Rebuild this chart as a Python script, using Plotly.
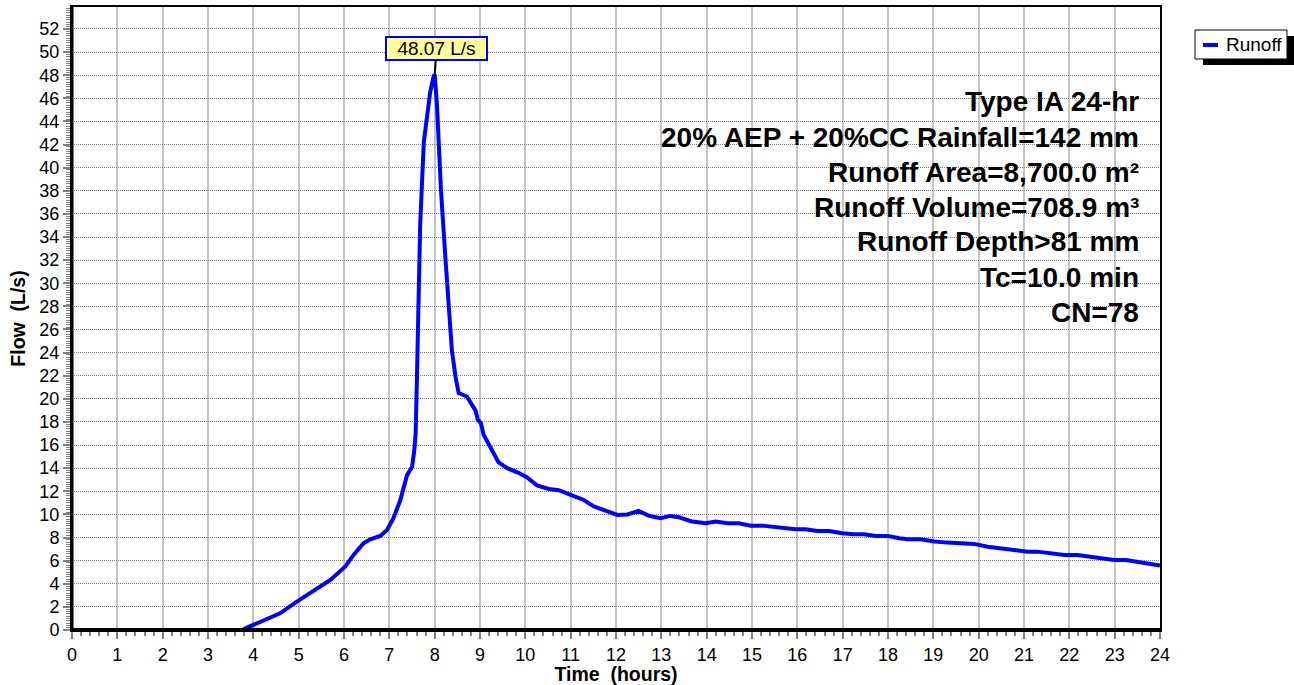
import plotly.graph_objects as go

# Runoff hydrograph (time in hours, flow in L/s)
time_h = [0, 3.75, 3.86, 4.22, 4.59, 4.96, 5.33, 5.7, 6.03, 6.21, 6.43, 6.58, 6.8, 6.95, 7.09, 7.24,
          7.39, 7.5, 7.55, 7.58, 7.61, 7.65, 7.68, 7.76, 7.83, 7.9, 7.97, 8.0, 8.05, 8.1, 8.14,
          8.24, 8.31, 8.38, 8.46, 8.53, 8.71, 8.9, 8.95, 9.02, 9.08, 9.23, 9.41, 9.6, 9.85, 10.04,
          10.26, 10.52, 10.74, 11.0, 11.29, 11.51, 11.81, 12.03, 12.25, 12.5, 12.73, 12.98, 13.2,
          13.39, 13.68, 13.98, 14.2, 14.46, 14.71, 14.97, 15.23, 15.49, 15.7, 15.96, 16.18, 16.44,
          16.7, 16.99, 17.25, 17.47, 17.73, 17.99, 18.25, 18.43, 18.72, 19.02, 19.31, 19.61, 19.9,
          20.2, 20.49, 20.78, 21.08, 21.3, 21.6, 21.89, 22.18, 22.44, 22.7, 22.99, 23.25, 23.51,
          23.76, 24.0]
flow_ls = [0, 0, 0.2, 0.78, 1.44, 2.45, 3.38, 4.33, 5.5, 6.5, 7.5, 7.85, 8.14, 8.66, 9.67, 11.2,
           13.4, 14.1, 15.5, 17.0, 22.0, 29.2, 35.0, 42.2, 44.5, 46.5, 47.8, 48.07, 45.5, 41.5, 38.0,
           32.0, 27.7, 24.2, 21.9, 20.5, 20.2, 19.0, 18.2, 17.9, 16.9, 15.8, 14.5, 14.0, 13.6, 13.2,
           12.5, 12.2, 12.1, 11.7, 11.25, 10.7, 10.25, 9.96, 10.0, 10.3, 9.87, 9.67, 9.87,
           9.75, 9.38, 9.23, 9.38, 9.23, 9.23, 9.03, 9.03, 8.89, 8.85, 8.72, 8.72, 8.57,
           8.57, 8.37, 8.28, 8.28, 8.14, 8.14, 7.94, 7.85, 7.85, 7.65, 7.56, 7.5, 7.45,
           7.21, 7.07, 6.99, 6.78, 6.78, 6.64, 6.49, 6.49, 6.35, 6.2, 6.06, 6.06, 5.86,
           5.71, 5.57]

x_ticks = list(range(0, 25))
y_ticks = list(range(0, 53, 2))

series_name = "Runoff"
peak_time = 8.0
peak_flow = 48.07
peak_label = "48.07 L/s"

info_lines = [
    "Type IA 24-hr",
    "20% AEP + 20%CC Rainfall=142 mm",
    "Runoff Area=8,700.0 m²",
    "Runoff Volume=708.9 m³",
    "Runoff Depth>81 mm",
    "Tc=10.0 min",
    "CN=78",
]

W, H = 1294, 685
ml, mr, mt, mb = 72, 134, 7, 55
pw, ph = W - ml - mr, H - mt - mb
FONT = "Arial, Liberation Sans, sans-serif"
LINE_BLUE = "#0000FF"

def px_to_paper_x(px):
    return (px - ml) / pw

def px_to_paper_y(py):
    return (H - mb - py) / ph

fig = go.Figure()
fig.add_trace(go.Scatter(
    x=time_h, y=flow_ls, mode="lines", name=series_name, showlegend=False,
    line=dict(color=LINE_BLUE, width=4),
))

axis_font = dict(family=FONT, size=18, color="black")
title_font = dict(family=FONT, size=19.5, color="black", weight="bold")

fig.update_xaxes(
    range=[0, 24], tickmode="array", tickvals=x_ticks, ticktext=[str(v) for v in x_ticks],
    showgrid=True, gridcolor="#c4c4c4", gridwidth=2,
    showline=True, linecolor="black", linewidth=2, mirror=True,
    ticks="outside", ticklen=7, tickwidth=2, tickcolor="#808080",
    minor=dict(dtick=0.2, ticks="outside", ticklen=4, tickwidth=2, tickcolor="#808080", showgrid=False),
    tickfont=axis_font, zeroline=False,
    title=dict(text="Time&nbsp; (hours)", font=title_font, standoff=0),
)
fig.update_yaxes(
    range=[0, 53.9], tickmode="array", tickvals=y_ticks, ticktext=[str(v) for v in y_ticks],
    showgrid=True, gridcolor="#808080", gridwidth=1, griddash="1px,1px",
    showline=True, linecolor="black", linewidth=2, mirror=True,
    ticks="outside", ticklen=7, tickwidth=2, tickcolor="#808080",
    minor=dict(dtick=0.2, ticks="outside", ticklen=4, tickwidth=1, tickcolor="#808080", showgrid=False),
    tickfont=axis_font, zeroline=False,
    title=dict(text="Flow&nbsp; (L/s)", font=title_font, standoff=9),
)

# legend box (drawn in pixel-derived paper coordinates)
lg_x0, lg_x1, lg_y0, lg_y1 = 1195, 1287, 30, 59
shapes = [
    # thicker left and bottom frame lines
    dict(type="line", xref="paper", yref="paper", x0=0, x1=1, y0=0, y1=0, line=dict(color="black", width=4)),
    dict(type="line", xref="paper", yref="paper", x0=0, x1=0, y0=0, y1=1, line=dict(color="black", width=3)),
    # legend shadow
    dict(type="rect", xref="paper", yref="paper",
         x0=px_to_paper_x(lg_x0 + 8), x1=px_to_paper_x(lg_x1 + 8),
         y0=px_to_paper_y(lg_y1 + 6), y1=px_to_paper_y(lg_y0 + 6),
         fillcolor="black", line=dict(width=0), layer="above"),
    # legend box
    dict(type="rect", xref="paper", yref="paper",
         x0=px_to_paper_x(lg_x0), x1=px_to_paper_x(lg_x1),
         y0=px_to_paper_y(lg_y1), y1=px_to_paper_y(lg_y0),
         fillcolor="white", line=dict(color="black", width=1), layer="above"),
    # legend line sample
    dict(type="line", xref="paper", yref="paper",
         x0=px_to_paper_x(1203), x1=px_to_paper_x(1218),
         y0=px_to_paper_y(45), y1=px_to_paper_y(45),
         line=dict(color=LINE_BLUE, width=4), layer="above"),
]

annotations = [dict(
    text=series_name, xref="paper", yref="paper", x=px_to_paper_x(1224), y=px_to_paper_y(45),
    xanchor="left", yanchor="middle", showarrow=False,
    font=dict(family=FONT, size=19, color="black"),
)]
line_y = [102, 137, 172, 207, 242, 277, 312]
for txt, yy in zip(info_lines, line_y):
    annotations.append(dict(
        text=txt, xref="paper", yref="paper", x=px_to_paper_x(1141), y=px_to_paper_y(yy),
        xanchor="right", yanchor="middle", showarrow=False,
        font=dict(family=FONT, size=28, color="black", weight="bold"),
    ))
annotations.append(dict(
    text=peak_label, x=peak_time, y=peak_flow, xref="x", yref="y",
    showarrow=True, arrowhead=0, arrowwidth=2, arrowcolor="black", ax=2, ay=-26,
    bgcolor="#ffff99", bordercolor=LINE_BLUE, borderwidth=2, borderpad=0,
    width=99, height=21,
    font=dict(family=FONT, size=19, color="black"),
))

fig.update_layout(
    width=W, height=H,
    margin=dict(l=ml, r=mr, t=mt, b=mb, autoexpand=False),
    plot_bgcolor="white", paper_bgcolor="white",
    showlegend=False,
    shapes=shapes, annotations=annotations,
)

fig.write_html("out.html", config={"displayModeBar": False},
               post_script="document.body.style.margin='0';document.body.style.overflow='hidden';")
